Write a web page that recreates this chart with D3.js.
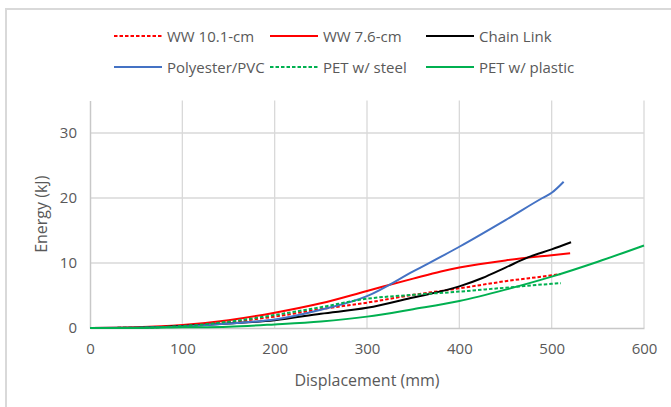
<!DOCTYPE html>
<html>
<head>
<meta charset="utf-8">
<script src="https://cdn.jsdelivr.net/npm/d3@7"></script>
<style>
  body { margin: 0; background: #fff; }
  text { font-family: "Open Sans", sans-serif; fill: #595959; }
</style>
</head>
<body>
<div id="chart"></div>
<script>
// displacement (mm) / energy (kJ)
const ww101X = [0, 50, 100, 150, 200, 250, 300, 350, 400, 450, 500, 510];
const ww101Y = [0, 0.05, 0.3, 0.9, 1.75, 2.9, 3.9, 5.1, 6.1, 7.2, 8.1, 8.3];

const ww76X = [0, 50, 100, 150, 200, 250, 300, 350, 380, 400, 450, 500, 520];
const ww76Y = [0, 0.1, 0.45, 1.2, 2.35, 3.8, 5.7, 7.6, 8.7, 9.3, 10.4, 11.2, 11.5];

const chainX = [0, 50, 100, 150, 200, 250, 300, 350, 400, 425, 450, 475, 500, 521];
const chainY = [0, 0.05, 0.3, 0.7, 1.2, 2.2, 3.1, 4.7, 6.4, 7.7, 9.3, 10.9, 12.1, 13.2];

const pvcX = [0, 50, 100, 150, 200, 250, 300, 350, 400, 450, 490, 500, 513];
const pvcY = [0, 0.05, 0.25, 0.7, 1.3, 2.8, 4.9, 8.7, 12.5, 16.6, 20.0, 20.8, 22.5];

const steelX = [0, 50, 100, 150, 200, 250, 300, 350, 400, 450, 500, 510];
const steelY = [0, 0.05, 0.3, 0.97, 2.0, 3.2, 4.5, 5.1, 5.6, 6.2, 6.8, 6.9];

const plasticX = [0, 50, 100, 150, 200, 250, 300, 350, 400, 450, 500, 550, 600];
const plasticY = [0, 0, 0.1, 0.2, 0.55, 1.0, 1.75, 2.9, 4.15, 5.9, 7.9, 10.2, 12.7];

const seriesNames = ["WW 10.1-cm", "WW 7.6-cm", "Chain Link", "Polyester/PVC", "PET w/ steel", "PET w/ plastic"];
const seriesX = [ww101X, ww76X, chainX, pvcX, steelX, plasticX];
const seriesY = [ww101Y, ww76Y, chainY, pvcY, steelY, plasticY];
const seriesColor = ["#ff0000", "#ff0000", "#000000", "#4472c4", "#00b050", "#00b050"];
const seriesDash = [true, false, false, false, true, false];

const xTicks = [0, 100, 200, 300, 400, 500, 600];
const yTicks = [0, 10, 20, 30];

const width = 671, height = 407;
const margin = {left: 90, right: 27, top: 100.5, bottom: 79};

const svg = d3.select("#chart").append("svg")
    .attr("width", width)
    .attr("height", height);

// outer chart border (right/bottom run off the picture)
svg.append("rect")
    .attr("x", 6).attr("y", 9)
    .attr("width", 720).attr("height", 440)
    .attr("fill", "none")
    .attr("stroke", "#d9d9d9")
    .attr("stroke-width", 2);

const x = d3.scaleLinear().domain([0, 600]).range([margin.left, width - margin.right]);
const y = d3.scaleLinear().domain([0, 35]).range([height - margin.bottom, margin.top]);

// grid
const grid = svg.append("g").attr("class", "grid");
grid.selectAll("line.v")
    .data(xTicks.slice(1))
    .enter().append("line")
    .attr("class", "v")
    .attr("x1", d => x(d)).attr("x2", d => x(d))
    .attr("y1", y(35)).attr("y2", y(0))
    .attr("stroke", "#d9d9d9").attr("stroke-width", 1.3);
grid.selectAll("line.h")
    .data(yTicks.slice(1))
    .enter().append("line")
    .attr("class", "h")
    .attr("x1", x(0)).attr("x2", x(600))
    .attr("y1", d => y(d)).attr("y2", d => y(d))
    .attr("stroke", "#d9d9d9").attr("stroke-width", 1.3);

// axes
const xAxis = svg.append("g")
    .attr("transform", "translate(0," + y(0) + ")")
    .call(d3.axisBottom(x).tickValues(xTicks).tickSize(0).tickPadding(15));
const yAxis = svg.append("g")
    .attr("transform", "translate(" + x(0) + ",0)")
    .call(d3.axisLeft(y).tickValues(yTicks).tickSize(0).tickPadding(13));
[xAxis, yAxis].forEach(a => {
    a.select(".domain").attr("stroke", "#c8c8c8").attr("stroke-width", 1.5);
    a.selectAll("text").style("font-size", "15px").attr("fill", "#595959")
        .style("font-family", "'Open Sans', sans-serif");
});

// lines
const line = d3.line()
    .x(d => x(d[0]))
    .y(d => y(d[1]))
    .curve(d3.curveMonotoneX);

seriesNames.forEach((name, i) => {
    const pts = seriesX[i].map((v, j) => [v, seriesY[i][j]]);
    svg.append("path")
        .datum(pts)
        .attr("d", line)
        .attr("fill", "none")
        .attr("stroke", seriesColor[i])
        .attr("stroke-width", 2)
        .attr("stroke-dasharray", seriesDash[i] ? "3.5,2" : null);
});

// axis titles
svg.append("text")
    .attr("x", (x(0) + x(600)) / 2)
    .attr("y", 386)
    .attr("text-anchor", "middle")
    .style("font-size", "16px")
    .text("Displacement (mm)");

svg.append("text")
    .attr("transform", "translate(47," + (y(0) + y(35)) / 2 + ") rotate(-90)")
    .attr("text-anchor", "middle")
    .style("font-size", "16px")
    .text("Energy (kJ)");

// legend
const legendCols = [114, 270, 426];
const legendRows = [36, 67];
const legendG = svg.selectAll(".legend")
    .data(seriesNames)
    .enter().append("g")
    .attr("class", "legend")
    .attr("transform", (d, i) => "translate(" + legendCols[i % 3] + "," + legendRows[Math.floor(i / 3)] + ")");

legendG.append("line")
    .attr("x1", 0).attr("x2", 48)
    .attr("y1", 0).attr("y2", 0)
    .attr("stroke", (d, i) => seriesColor[i])
    .attr("stroke-width", 2)
    .attr("stroke-dasharray", (d, i) => seriesDash[i] ? "3.5,2" : null);

legendG.append("text")
    .attr("x", 53)
    .attr("y", 5.5)
    .style("font-size", "15px")
    .text(d => d);
</script>
</body>
</html>
